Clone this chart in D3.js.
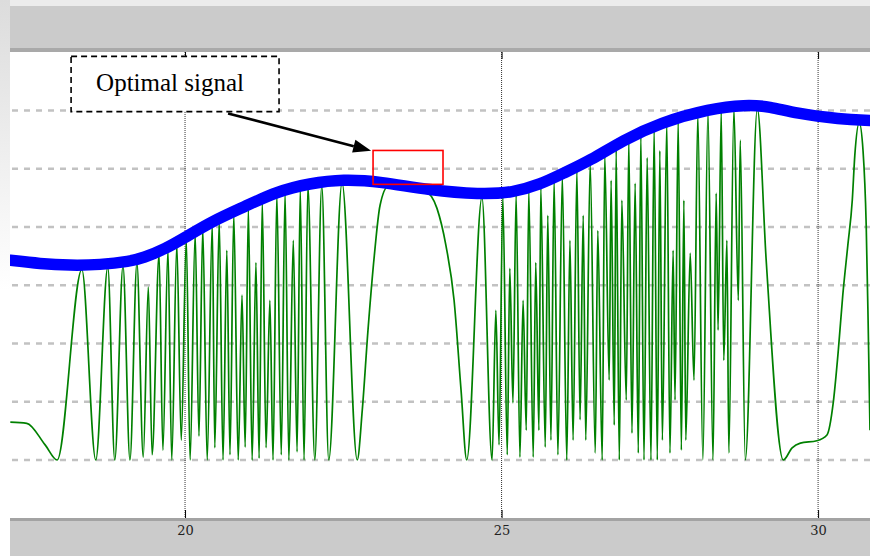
<!DOCTYPE html>
<html>
<head>
<meta charset="utf-8">
<script src="https://cdn.jsdelivr.net/npm/d3@7"></script>
<style>
  html, body { margin: 0; padding: 0; background: #fff; }
  svg { display: block; }
</style>
</head>
<body>
<div id="chart"></div>
<script>
// x ticks and the dashed y grid levels
const xTicks = [20, 25, 30];
const yGrid = [0, 1, 2, 3, 4, 5, 6];

// blue envelope (the optimal signal)
const envX = [17.24, 17.71, 18.18, 18.66, 19.13, 19.34, 19.68, 20.00, 20.43, 20.92, 21.45, 21.97, 22.50, 23.08,
  23.87, 24.66, 25.18, 25.61, 25.97, 26.40, 26.92, 27.50, 28.29, 28.85, 29.24, 29.64, 30.35, 30.82];
const envY = [3.43, 3.37, 3.34, 3.35, 3.41, 3.47, 3.62, 3.82, 4.10, 4.34, 4.61, 4.75, 4.82, 4.78,
  4.63, 4.56, 4.59, 4.73, 4.92, 5.14, 5.49, 5.79, 6.03, 6.10, 6.07, 5.95, 5.85, 5.83];

// green signal, peaks and troughs read one by one
const sigX = [
  17.24, 17.50, 17.79, 17.98,
  18.37, 18.59, 18.78, 18.89, 19.02, 19.13, 19.24, 19.34, 19.42, 19.48, 19.59, 19.65, 19.73, 19.79, 19.87, 19.94,
  20.02, 20.08, 20.16, 20.22, 20.28, 20.35, 20.43, 20.47, 20.54,
  20.60, 20.66, 20.71, 20.77, 20.84, 20.90, 20.95, 21.00, 21.06, 21.12, 21.17, 21.22, 21.28, 21.34, 21.39, 21.45,
  21.52, 21.58, 21.64, 21.71, 21.77, 21.82, 21.88, 21.94, 22.05, 22.16, 22.27, 22.48, 22.72,
  22.80, 22.89, 22.99, 23.08, 23.21, 23.51, 23.79, 23.98, 24.12, 24.25, 24.36, 24.45,
  24.69, 24.85, 24.91, 24.96, 25.02, 25.09, 25.13, 25.18, 25.23, 25.29, 25.34, 25.39, 25.43, 25.50, 25.54, 25.59,
  25.62, 25.69, 25.73, 25.78, 25.83, 25.89,
  25.96, 26.03, 26.08, 26.13, 26.19, 26.24, 26.29, 26.33, 26.40, 26.48,
  26.52, 26.59, 26.63, 26.70, 26.73, 26.78, 26.81, 26.86, 26.90, 26.97,
  27.01, 27.06, 27.11, 27.16, 27.20, 27.25, 27.30, 27.36, 27.41, 27.46,
  27.50, 27.54, 27.61, 27.66, 27.71, 27.74, 27.79, 27.84, 27.88, 27.91,
  27.98, 28.04, 28.10, 28.18, 28.26, 28.34, 28.39, 28.42, 28.47, 28.51,
  28.56, 28.59, 28.67, 28.74, 28.77, 28.85, 29.04, 29.18, 29.45,
  29.59, 29.72, 29.98, 30.14, 30.24, 30.32, 30.39, 30.47, 30.54, 30.58, 30.65, 30.71, 30.76, 30.79, 30.82
];
const sigY = [
  0.65, 0.63, 0.26, 0.00,
  3.27, 0, 3.31, 0, 3.33, 0, 3.38, 0.05, 2.97, 0.09, 3.53, 0.17, 3.61, 0, 3.70, 0.34,
  3.79, 0, 3.89, 0.41, 3.98, 0, 4.06, 0.21, 4.11,
  0, 3.60, 0.09, 4.22, 0, 2.83, 0.22, 4.32, 0, 3.39, 0.03, 4.44, 0.21, 2.74, 0, 4.56,
  0.09, 4.59, 0, 3.77, 0.14, 4.66, 0, 4.70, 0, 4.71, 0, 4.76, 0,
  0.86, 2.23, 3.51, 4.37, 4.70, 4.71, 4.63, 4.32, 3.69, 2.74, 1.20, 0,
  4.51, 0, 2.57, 0.26, 4.52, 0.09, 3.29, 0.98, 4.56, 0.05, 2.74, 0.51, 4.63, 0.05, 3.39, 0.51,
  4.70, 0.22, 4.20, 0.34, 4.80, 0.09,
  4.87, 0, 3.77, 0.34, 4.97, 0.69, 4.20, 0.34, 5.09, 0.12,
  3.94, 0, 5.24, 1.37, 4.80, 0.60, 5.33, 0, 4.46, 1.03,
  5.49, 0.46, 4.75, 0.12, 5.59, 0, 5.19, 0, 5.69, 0,
  5.31, 0.34, 5.78, 0.12, 3.60, 1.03, 5.83, 0.17, 4.46, 0.34,
  3.55, 1.37, 5.93, 0, 5.98, 0, 4.58, 2.23, 6.00, 1.71,
  3.77, 0.12, 6.03, 2.74, 5.49, 0, 6.03, 3.43, 0,
  0.21, 0.29, 0.33, 0.43, 0.99, 1.89, 2.83, 3.69, 4.46, 5.23, 5.79, 5.31, 4.03, 2.40, 0.51
];

const noteText = 'Optimal signal';

const width = 870;
const height = 556;
const plotLeft = 10;
const plotTop = 52;
const plotBottom = 518;

/* Scales */
const x = d3.scaleLinear().domain([17.235, 30.82]).range([plotLeft, width]);
const y = d3.scaleLinear().domain([-1, 7]).range([518.25, 52.25]);

const svg = d3.select('#chart')
  .append('svg')
  .attr('xmlns', 'http://www.w3.org/2000/svg')
  .attr('width', width)
  .attr('height', height);

const defs = svg.append('defs');
const grad = defs.append('linearGradient')
  .attr('id', 'leftfade')
  .attr('x1', 0).attr('y1', 0).attr('x2', 0).attr('y2', 1);
grad.append('stop').attr('offset', '0%').attr('stop-color', '#dcdcdc');
grad.append('stop').attr('offset', '100%').attr('stop-color', '#ffffff');

defs.append('clipPath')
  .attr('id', 'plotclip')
  .append('rect')
  .attr('x', plotLeft).attr('y', plotTop)
  .attr('width', width - plotLeft).attr('height', plotBottom - plotTop);

/* background, window chrome */
svg.append('rect').attr('width', width).attr('height', height).attr('fill', '#fff');
svg.append('rect').attr('x', 0).attr('y', 0).attr('width', width).attr('height', 6).attr('fill', '#ececec');
svg.append('rect').attr('x', 0).attr('y', 0).attr('width', plotLeft).attr('height', 290).attr('fill', 'url(#leftfade)');

svg.append('rect').attr('x', plotLeft).attr('y', 6).attr('width', width - plotLeft).attr('height', 46).attr('fill', '#cbcbcb');
svg.append('rect').attr('x', plotLeft).attr('y', 48).attr('width', width - plotLeft).attr('height', 4).attr('fill', '#a9a9a9');

svg.append('rect').attr('x', plotLeft).attr('y', plotBottom).attr('width', width - plotLeft).attr('height', height - plotBottom).attr('fill', '#cbcbcb');
svg.append('rect').attr('x', plotLeft).attr('y', plotBottom).attr('width', width - plotLeft).attr('height', 3).attr('fill', '#a3a3a3');

const plotArea = svg.append('g').attr('clip-path', 'url(#plotclip)');

/* grid */
plotArea.append('g')
  .selectAll('line')
  .data(yGrid)
  .enter()
  .append('line')
  .attr('x1', plotLeft + 2).attr('x2', width)
  .attr('y1', (d) => y(d)).attr('y2', (d) => y(d))
  .attr('stroke', '#c2c2c2')
  .attr('stroke-width', 2.5)
  .attr('stroke-dasharray', '6,6');

plotArea.append('g')
  .selectAll('line')
  .data(xTicks)
  .enter()
  .append('line')
  .attr('x1', (d) => x(d)).attr('x2', (d) => x(d))
  .attr('y1', plotTop).attr('y2', plotBottom)
  .attr('stroke', '#333')
  .attr('stroke-width', 1)
  .attr('stroke-dasharray', '1,1');

/* signal and envelope */
const sig = sigX.map((v, i) => ({ x: v, y: sigY[i] }));
const env = envX.map((v, i) => ({ x: v, y: envY[i] }));

const sigLine = d3.line()
  .x((d) => x(d.x))
  .y((d) => y(d.y))
  .curve(d3.curveMonotoneX);

const envLine = d3.line()
  .x((d) => x(d.x))
  .y((d) => y(d.y))
  .curve(d3.curveBasis);

plotArea.append('path')
  .attr('d', sigLine(sig))
  .attr('fill', 'none')
  .attr('stroke', '#008000')
  .attr('stroke-width', 1.7)
  .attr('stroke-linejoin', 'round');

plotArea.append('path')
  .attr('d', envLine(env))
  .attr('fill', 'none')
  .attr('stroke', '#0000ff')
  .attr('stroke-width', 11.5)
  .attr('stroke-linecap', 'round');

/* axes: inward ticks, labels below */
const xAxis = d3.axisBottom(x).tickValues(xTicks).tickSize(-8).tickPadding(8).tickFormat(d3.format('d'));
const axisB = svg.append('g')
  .attr('transform', `translate(0, ${plotBottom})`)
  .call(xAxis);
axisB.select('.domain').remove();
axisB.selectAll('line').attr('stroke', '#000');
axisB.selectAll('text')
  .attr('fill', '#222')
  .style('font-family', '"DejaVu Serif", serif')
  .style('font-size', '13px');

const axisT = svg.append('g')
  .attr('transform', `translate(0, ${plotTop})`)
  .call(d3.axisTop(x).tickValues(xTicks).tickSize(-7).tickFormat(''));
axisT.select('.domain').remove();
axisT.selectAll('line').attr('stroke', '#000');

/* annotation */
svg.append('rect')
  .attr('x', x(18.2)).attr('y', y(6.93))
  .attr('width', x(21.485) - x(18.2))
  .attr('height', y(5.98) - y(6.93))
  .attr('fill', '#fff')
  .attr('stroke', '#000')
  .attr('stroke-width', 1.6)
  .attr('stroke-dasharray', '6,4');

svg.append('text')
  .attr('x', x(19.763)).attr('y', y(6.334))
  .attr('text-anchor', 'middle')
  .style('font-family', '"Liberation Serif", "Times New Roman", serif')
  .style('font-size', '25px')
  .attr('fill', '#000')
  .text(noteText);

const a0 = [x(20.68), y(5.95)];
const a1 = [x(22.94), y(5.31)];
const ang = Math.atan2(a1[1] - a0[1], a1[0] - a0[0]);
const headLen = 18;
const headW = 6.5;
const base = [a1[0] - headLen * Math.cos(ang), a1[1] - headLen * Math.sin(ang)];

svg.append('line')
  .attr('x1', a0[0]).attr('y1', a0[1])
  .attr('x2', base[0]).attr('y2', base[1])
  .attr('stroke', '#000')
  .attr('stroke-width', 2.6);

svg.append('path')
  .attr('d', `M${a1[0]},${a1[1]}L${base[0] + headW * Math.sin(ang)},${base[1] - headW * Math.cos(ang)}L${base[0] - headW * Math.sin(ang)},${base[1] + headW * Math.cos(ang)}Z`)
  .attr('fill', '#000');

svg.append('rect')
  .attr('x', x(22.97)).attr('y', y(5.314))
  .attr('width', x(24.075) - x(22.97))
  .attr('height', y(4.732) - y(5.314))
  .attr('fill', 'none')
  .attr('stroke', '#ff0000')
  .attr('stroke-width', 1.6);
</script>
</body>
</html>
